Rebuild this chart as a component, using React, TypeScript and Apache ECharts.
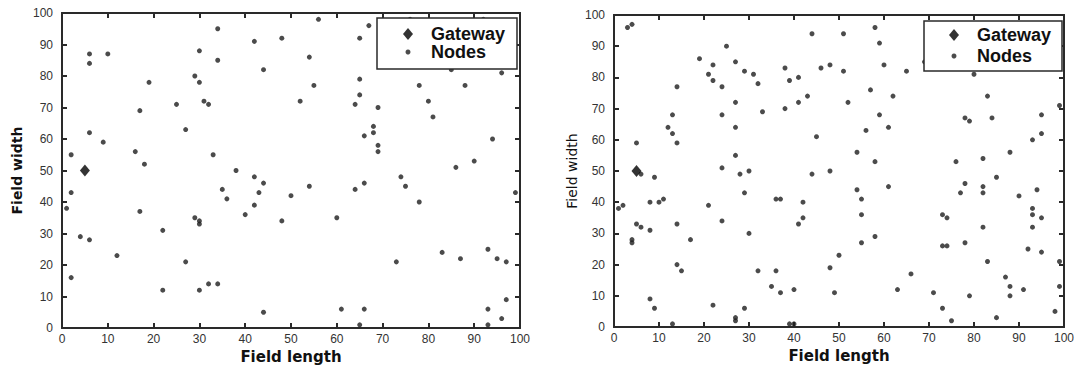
import React, { useEffect, useRef } from "react";
import * as echarts from "echarts";

// ---- data ----
const axisMin = 0;
const axisMax = 100;
const axisInterval = 10;

const seriesNames = ["Gateway", "Nodes"];
const xAxisTitle = "Field length";
const yAxisTitle = "Field width";

const leftGateway: [number, number][] = [[5, 50]];
const rightGateway: [number, number][] = [[5, 50]];

const leftNodes: [number, number][] = [
  [2, 55], [6, 87], [6, 84], [10, 87], [6, 62], [9, 59], [17, 69], [19, 78], [16, 56], [18, 52],
  [25, 71], [27, 63], [29, 80], [30, 88], [30, 78], [31, 72], [32, 71], [34, 95], [34, 85], [33, 55],
  [38, 50], [42, 91], [44, 82], [42, 48], [48, 92], [1, 38], [2, 43], [4, 29], [6, 28], [2, 16],
  [12, 23], [17, 37], [22, 31], [22, 12], [27, 21], [29, 35], [30, 34], [30, 33], [30, 12], [32, 14],
  [34, 14], [35, 44], [36, 41], [40, 36], [42, 39], [43, 43], [44, 46], [44, 5], [48, 34], [50, 42],
  [56, 98], [54, 86], [55, 77], [52, 72], [65, 92], [67, 96], [65, 79], [65, 74], [64, 71], [69, 70],
  [68, 64], [68, 62], [66, 61], [69, 58], [69, 56], [74, 48], [76, 98], [78, 77], [80, 72], [81, 67],
  [88, 77], [85, 82], [96, 81], [92, 98], [94, 60], [90, 53], [86, 51], [54, 45], [60, 35], [64, 44],
  [66, 46], [75, 45], [78, 40], [73, 21], [83, 24], [87, 22], [93, 25], [95, 22], [97, 21], [99, 43],
  [61, 6], [66, 6], [65, 1], [93, 6], [93, 1], [96, 3], [97, 9],
];

const rightNodes: [number, number][] = [
  [3, 96], [4, 97], [5, 59], [6, 49], [9, 48], [14, 77], [13, 68], [12, 64], [13, 62], [14, 59],
  [19, 86], [21, 81], [22, 84], [22, 79], [25, 90], [24, 77], [24, 68], [27, 85], [27, 72], [27, 64],
  [27, 55], [24, 51], [28, 49], [30, 50], [29, 82], [31, 81], [32, 78], [33, 69], [38, 83], [39, 79],
  [41, 80], [38, 70], [41, 72], [43, 74], [44, 94], [46, 83], [48, 84], [45, 61], [44, 49], [48, 50],
  [51, 94], [51, 82], [58, 96], [59, 91], [60, 84], [65, 82], [69, 85], [80, 81], [57, 76], [62, 74],
  [52, 72], [59, 68], [61, 64], [56, 63], [54, 56], [58, 53], [83, 74], [78, 67], [79, 66], [84, 67],
  [95, 68], [99, 71], [95, 62], [93, 60], [88, 56], [82, 54], [76, 53], [85, 48],
  [1, 38], [2, 39], [4, 27], [4, 28], [5, 33], [6, 32], [8, 31], [8, 40], [10, 40], [11, 41],
  [8, 9], [9, 6], [14, 33], [14, 20], [15, 18], [17, 28], [13, 1], [21, 39], [24, 34], [22, 7],
  [27, 3], [27, 2], [29, 6], [29, 43], [30, 30], [32, 18], [35, 13], [36, 18], [37, 11], [36, 41],
  [37, 41], [40, 12], [39, 1], [40, 1], [42, 40], [41, 33], [42, 35], [48, 19],
  [54, 44], [55, 41], [55, 36], [55, 27], [61, 45], [58, 29], [50, 23], [49, 11], [63, 12], [66, 17],
  [71, 11], [73, 6], [75, 2], [73, 36], [74, 35], [73, 26], [74, 26], [77, 43], [78, 46], [78, 27],
  [79, 10], [82, 45], [82, 43], [82, 32], [83, 21], [87, 16], [88, 13], [88, 10], [85, 3], [90, 42],
  [91, 12], [94, 44], [93, 38], [93, 36], [93, 32], [95, 35], [92, 25], [95, 24], [99, 21], [99, 13],
  [98, 5],
];

const FONT = "'Liberation Sans', Arial, sans-serif";
const TITLE_FONT = "'DejaVu Sans', 'Liberation Sans', sans-serif";
const INK = "#2a2a2a";

function tickStyle() {
  return { show: true, inside: true, length: 5, lineStyle: { color: INK, width: 2 } };
}
function axisLineStyle() {
  return { show: true, onZero: false, lineStyle: { color: INK, width: 2 } };
}

function mainX(grid: number) {
  return {
    type: "value",
    gridIndex: grid,
    min: axisMin,
    max: axisMax,
    interval: axisInterval,
    name: xAxisTitle,
    nameLocation: "middle",
    nameGap: 20,
    nameTextStyle: { fontFamily: TITLE_FONT, fontWeight: "bold", fontSize: 15, color: "#111" },
    axisLine: axisLineStyle(),
    axisTick: tickStyle(),
    axisLabel: { margin: 5, fontFamily: FONT, fontSize: 12, color: "#333" },
    splitLine: { show: false },
  };
}
function topX(grid: number) {
  return {
    type: "value",
    gridIndex: grid,
    position: "top",
    min: axisMin,
    max: axisMax,
    interval: axisInterval,
    axisLine: axisLineStyle(),
    axisTick: tickStyle(),
    axisLabel: { show: false },
    splitLine: { show: false },
  };
}
function mainY(grid: number, nameGap: number, weight: string) {
  return {
    type: "value",
    gridIndex: grid,
    min: axisMin,
    max: axisMax,
    interval: axisInterval,
    name: yAxisTitle,
    nameLocation: "middle",
    nameGap,
    nameTextStyle: { fontFamily: TITLE_FONT, fontWeight: weight, fontSize: 14, color: "#111" },
    axisLine: axisLineStyle(),
    axisTick: tickStyle(),
    axisLabel: { margin: 9, fontFamily: FONT, fontSize: 12, color: "#333" },
    splitLine: { show: false },
  };
}
function rightY(grid: number) {
  return {
    type: "value",
    gridIndex: grid,
    position: "right",
    min: axisMin,
    max: axisMax,
    interval: axisInterval,
    axisLine: axisLineStyle(),
    axisTick: tickStyle(),
    axisLabel: { show: false },
    splitLine: { show: false },
  };
}

function nodeSeries(axis: number, data: [number, number][]) {
  return {
    type: "scatter",
    name: seriesNames[1],
    xAxisIndex: axis,
    yAxisIndex: axis,
    data,
    symbol: "circle",
    symbolSize: 5,
    itemStyle: { color: "#1e1e1e" },
    z: 2,
  };
}
function gatewaySeries(axis: number, data: [number, number][]) {
  return {
    type: "scatter",
    name: seriesNames[0],
    xAxisIndex: axis,
    yAxisIndex: axis,
    data,
    symbol: "diamond",
    symbolSize: [10, 12],
    itemStyle: { color: "#000" },
    z: 3,
  };
}

const legendText = { fontFamily: FONT, fontSize: 18, fontWeight: "bold", color: "#111" };
const diamondIcon = "path://M5 0L10 6L5 12L0 6Z";

// left edge of the legend = left edge of its icon
function legendPair(iconCenter: number, top1: number, top2: number) {
  return [
    {
      data: [{ name: seriesNames[0], icon: diamondIcon }],
      left: iconCenter - 5,
      top: top1,
      orient: "vertical",
      itemWidth: 36,
      itemHeight: 12,
      padding: 0,
      selectedMode: false,
      textStyle: legendText,
      z: 20,
    },
    {
      data: [{ name: seriesNames[1], icon: "circle" }],
      left: iconCenter - 2.5,
      top: top2,
      orient: "vertical",
      itemWidth: 36,
      itemHeight: 5,
      padding: 0,
      selectedMode: false,
      textStyle: legendText,
      z: 20,
    },
  ];
}

export default function App() {
  const ref = useRef<HTMLDivElement>(null);
  useEffect(() => {
    if (!ref.current) return;
    const chart = echarts.init(ref.current, undefined, { renderer: "svg" });
    chart.setOption({
      animation: false,
      grid: [
        {
          left: 62, top: 13, width: 458, height: 315, outerBoundsMode: "none",
          show: true, borderColor: INK, borderWidth: 1.5, backgroundColor: "transparent",
        },
        {
          left: 614, top: 15, width: 450, height: 312, outerBoundsMode: "none",
          show: true, borderColor: INK, borderWidth: 1.5, backgroundColor: "transparent",
        },
      ],
      xAxis: [mainX(0), topX(0), mainX(1), topX(1)],
      yAxis: [mainY(0, 38, "bold"), rightY(0), mainY(1, 35, "normal"), rightY(1)],
      legend: [...legendPair(408, 25, 43), ...legendPair(954, 26, 47)],
      graphic: [
        {
          type: "rect",
          shape: { x: 377, y: 18, width: 140, height: 51 },
          style: { fill: "#fff", stroke: INK, lineWidth: 1.5 },
          z: 10,
        },
        {
          type: "rect",
          shape: { x: 924, y: 21, width: 138, height: 50 },
          style: { fill: "#fff", stroke: INK, lineWidth: 1.5 },
          z: 10,
        },
      ],
      series: [
        nodeSeries(0, leftNodes),
        gatewaySeries(0, leftGateway),
        nodeSeries(2, rightNodes),
        gatewaySeries(2, rightGateway),
      ],
    });
    return () => chart.dispose();
  }, []);
  return (
    <div
      ref={ref}
      style={{ position: "absolute", left: 0, top: 0, width: 1075, height: 370, background: "#fff" }}
    />
  );
}
